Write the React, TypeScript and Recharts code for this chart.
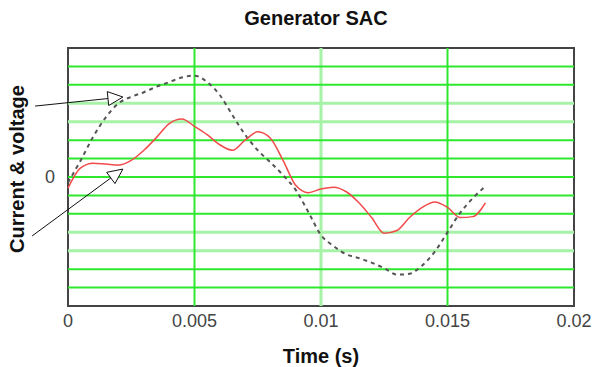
import React from "react";
import {
  LineChart,
  Line,
  XAxis,
  YAxis,
  ReferenceLine,
  ReferenceArea,
} from "recharts";

const time = [
  0, 0.0005, 0.001, 0.0015, 0.002, 0.0025, 0.003, 0.0035, 0.004, 0.0045, 0.005,
  0.0055, 0.006, 0.0065, 0.007, 0.0075, 0.008, 0.0085, 0.009, 0.0095, 0.01,
  0.0105, 0.011, 0.0115, 0.012, 0.0125, 0.013, 0.0135, 0.014, 0.0145, 0.015,
  0.0155, 0.016, 0.0165,
];
const voltage = [
  -0.3, 0.9, 2.2, 3.25, 4.0, 4.35, 4.6, 4.9, 5.15, 5.4, 5.5, 5.15, 4.45, 3.35,
  2.3, 1.45, 0.8, 0.1, -0.7, -1.9, -3.15, -3.75, -4.2, -4.4, -4.65, -4.95, -5.3,
  -5.25, -4.8, -4.05, -3.0, -1.95, -1.15, -0.5,
];
const current = [
  -0.6, 0.5, 0.75, 0.7, 0.65, 0.9, 1.45, 2.15, 2.9, 3.15, 2.75, 2.3, 1.75, 1.45,
  2.0, 2.45, 2.1, 0.9, -0.45, -0.85, -0.65, -0.55, -0.8, -1.4, -2.2, -3.05, -2.9,
  -2.2, -1.65, -1.35, -1.65, -2.2, -2.15, -1.4,
];

const xTicks = [0, 0.005, 0.01, 0.015, 0.02];
const yTicks = [-7, -6, -5, -4, -3, -2, -1, 0, 1, 2, 3, 4, 5, 6, 7];
const brightYLines = [-6, -5, -2, -1, 0, 1, 2, 5, 6];
const dimYLines = [-4, -3, 3, 4];
const brightXLines = [0.005, 0.015];
const dimXLines = [0.01];

// annotation arrows: [tail, tip] in data coordinates
const voltageArrow = [
  { x: -0.0013, y: 3.85 },
  { x: 0.00217, y: 4.34 },
];
const currentArrow = [
  { x: -0.00142, y: -3.2 },
  { x: 0.00217, y: 0.43 },
];

const data = time.map((t, i) => ({ t, voltage: voltage[i], current: current[i] }));

const font = "'Liberation Sans', Arial, sans-serif";
const bright = "#2ee82e";
const dim = "#a6f2a6";

function ArrowShape(props: any) {
  const { x1, y1, x2, y2 } = props;
  const ang = Math.atan2(y2 - y1, x2 - x1);
  const len = 15;
  const half = 7;
  const bx = x2 - len * Math.cos(ang);
  const by = y2 - len * Math.sin(ang);
  const px = -Math.sin(ang) * half;
  const py = Math.cos(ang) * half;
  return (
    <g>
      <line x1={x1} y1={y1} x2={bx} y2={by} stroke="#111" strokeWidth={1} />
      <polygon
        points={`${x2},${y2} ${bx + px},${by + py} ${bx - px},${by - py}`}
        fill="#fff"
        stroke="#111"
        strokeWidth={1}
      />
    </g>
  );
}

export default function App() {
  return (
    <div style={{ position: "absolute", left: 0, top: 0, width: 595, height: 367, background: "#fff" }}>
      <div
        style={{
          position: "absolute",
          left: 166,
          width: 300,
          top: 7,
          textAlign: "center",
          fontFamily: font,
          fontWeight: "bold",
          fontSize: 20,
          color: "#111",
        }}
      >
        Generator SAC
      </div>
      <LineChart
        width={595}
        height={367}
        data={data}
        margin={{ top: 48, right: 21, bottom: 3, left: 18 }}
      >
        {dimYLines.map((y) => (
          <ReferenceLine key={"dy" + y} y={y} stroke={dim} strokeWidth={3} />
        ))}
        {dimXLines.map((x) => (
          <ReferenceLine key={"dx" + x} x={x} stroke={dim} strokeWidth={3} />
        ))}
        {brightYLines.map((y) => (
          <ReferenceLine key={"by" + y} y={y} stroke={bright} strokeWidth={2} />
        ))}
        {brightXLines.map((x) => (
          <ReferenceLine key={"bx" + x} x={x} stroke={bright} strokeWidth={2} />
        ))}
        <ReferenceArea
          x1={0}
          x2={0.02}
          y1={-7}
          y2={7}
          fill="none"
          stroke="#444"
          strokeWidth={2}
        />
        <XAxis
          type="number"
          dataKey="t"
          domain={[0, 0.02]}
          ticks={xTicks}
          axisLine={false}
          tickLine={false}
          height={58}
          tick={{ fill: "#444", fontSize: 18, fontFamily: font }}
          label={{
            value: "Time (s)",
            position: "insideBottom",
            offset: 1,
            fill: "#111",
            fontSize: 20,
            fontWeight: "bold",
            fontFamily: font,
          }}
        />
        <YAxis
          type="number"
          domain={[-7, 7]}
          ticks={yTicks}
          interval={0}
          axisLine={false}
          tickLine={false}
          width={50}
          tickFormatter={(v: number) => (v === 0 ? "0" : "")}
          tick={{ fill: "#444", fontSize: 18, fontFamily: font, dx: -5 }}
          label={{
            value: "Current & voltage",
            angle: -90,
            position: "center",
            dx: -26,
            dy: -8,
            fill: "#111",
            fontSize: 20,
            fontWeight: "bold",
            fontFamily: font,
          }}
        />
        <Line
          type="monotone"
          dataKey="voltage"
          stroke="#555"
          strokeWidth={2}
          strokeDasharray="4 4"
          dot={false}
          isAnimationActive={false}
        />
        <Line
          type="monotone"
          dataKey="current"
          stroke="#f24a4a"
          strokeWidth={1.5}
          dot={false}
          isAnimationActive={false}
        />
        <ReferenceLine segment={voltageArrow} ifOverflow="visible" shape={ArrowShape} />
        <ReferenceLine segment={currentArrow} ifOverflow="visible" shape={ArrowShape} />
      </LineChart>
    </div>
  );
}
